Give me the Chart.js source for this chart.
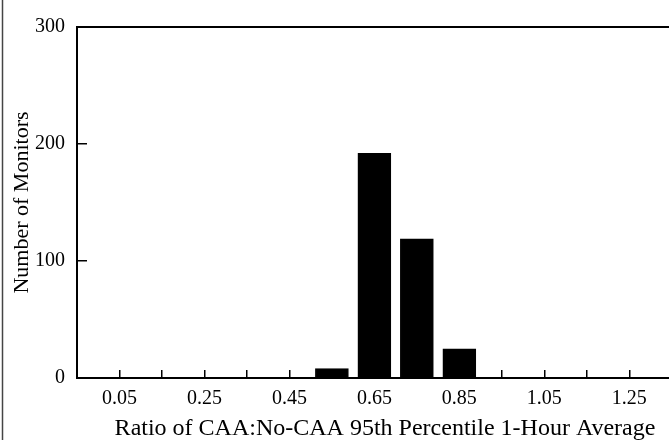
<!DOCTYPE html>
<html>
<head>
<meta charset="utf-8">
<script src="https://cdn.jsdelivr.net/npm/chart.js@4.4.0/dist/chart.umd.min.js"></script>
<style>
    html, body { margin: 0; padding: 0; background: #fff; overflow: hidden; }
    #wrap { width: 669px; height: 440px; overflow: hidden; position: relative; }
    /* the original figure runs past the right edge, so the canvas is wider than the window */
    #hist { display: block; }
</style>
</head>
<body>
<div id="wrap"><canvas id="hist" width="693" height="440"></canvas></div>
<script>
// bin centers (ratio) and number of monitors in each bin
const binCenters = [0.55, 0.65, 0.75, 0.85];
const monitorCounts = [8, 192, 119, 25];

// x tick marks every 0.1, labels only on every other one
const xTickValues = [0.05, 0.15, 0.25, 0.35, 0.45, 0.55, 0.65, 0.75, 0.85, 0.95, 1.05, 1.15, 1.25, 1.35];
const xTickLabels = ['0.05', '0.25', '0.45', '0.65', '0.85', '1.05', '1.25'];
const yTickValues = [0, 100, 200, 300];

const xTitle = 'Ratio of CAA:No-CAA 95th Percentile 1-Hour Average';
const yTitle = 'Number of Monitors';

const serif = '"Liberation Serif", "Times New Roman", serif';
Chart.defaults.font.family = serif;
Chart.defaults.color = '#000';

// top border of the plot box and the left frame line of the figure
const framePlugin = {
    id: 'frame',
    afterDraw(chart) {
        const { ctx, chartArea } = chart;
        ctx.save();
        ctx.strokeStyle = '#000';
        ctx.lineWidth = 2;
        ctx.beginPath();
        ctx.moveTo(chartArea.left, chartArea.top);
        ctx.lineTo(chartArea.right, chartArea.top);
        ctx.stroke();
        ctx.strokeStyle = '#444';
        ctx.lineWidth = 1.5;
        ctx.beginPath();
        ctx.moveTo(2.5, 0);
        ctx.lineTo(2.5, chart.height);
        ctx.stroke();
        ctx.restore();
    }
};

const ctx = document.getElementById('hist').getContext('2d');
new Chart(ctx, {
    type: 'bar',
    data: {
        datasets: [{
            label: 'Monitors',
            data: binCenters.map((c, i) => ({ x: c, y: monitorCounts[i] })),
            backgroundColor: '#000',
            borderColor: '#000',
            borderWidth: 1,
            barThickness: 33
        }]
    },
    options: {
        responsive: false,
        animation: false,
        devicePixelRatio: 1,
        layout: {
            padding: { top: 27, right: 0, bottom: 0, left: 0 }
        },
        scales: {
            x: {
                type: 'linear',
                min: -0.05,
                max: 1.40,
                offset: false,
                afterBuildTicks: (scale) => {
                    scale.ticks = xTickValues.map(v => ({ value: v }));
                },
                afterFit: (scale) => {
                    scale.height = 62;
                    scale.paddingLeft = 0;
                    scale.paddingRight = 0;
                },
                ticks: {
                    autoSkip: false,
                    maxRotation: 0,
                    padding: 17,
                    font: { size: 20, family: serif },
                    color: '#000',
                    callback: (value) => {
                        const s = Number(value).toFixed(2);
                        return xTickLabels.includes(s) ? s : '';
                    }
                },
                grid: {
                    offset: false,
                    drawOnChartArea: false,
                    drawTicks: true,
                    tickLength: -8,
                    color: '#000',
                    lineWidth: 1.5
                },
                border: { color: '#000', width: 2 },
                title: {
                    display: true,
                    text: xTitle,
                    color: '#000',
                    font: { size: 24, family: serif, lineHeight: 0.9 },
                    padding: { top: 0, bottom: 0 }
                }
            },
            y: {
                min: 0,
                max: 300,
                afterBuildTicks: (scale) => {
                    scale.ticks = yTickValues.map(v => ({ value: v }));
                },
                afterFit: (scale) => {
                    scale.width = 77;
                    scale.paddingTop = 0;
                    scale.paddingBottom = 0;
                },
                ticks: {
                    padding: 22,
                    font: { size: 20, family: serif },
                    color: '#000'
                },
                grid: {
                    drawOnChartArea: false,
                    drawTicks: true,
                    tickLength: -10,
                    color: '#000',
                    lineWidth: 1.5
                },
                border: { color: '#000', width: 2 },
                title: {
                    display: true,
                    text: yTitle,
                    color: '#000',
                    font: { size: 22, family: serif, lineHeight: 1 },
                    padding: { top: 11, bottom: 0 }
                }
            }
        },
        plugins: {
            legend: { display: false },
            tooltip: { enabled: false }
        }
    },
    plugins: [framePlugin]
});
</script>
</body>
</html>
